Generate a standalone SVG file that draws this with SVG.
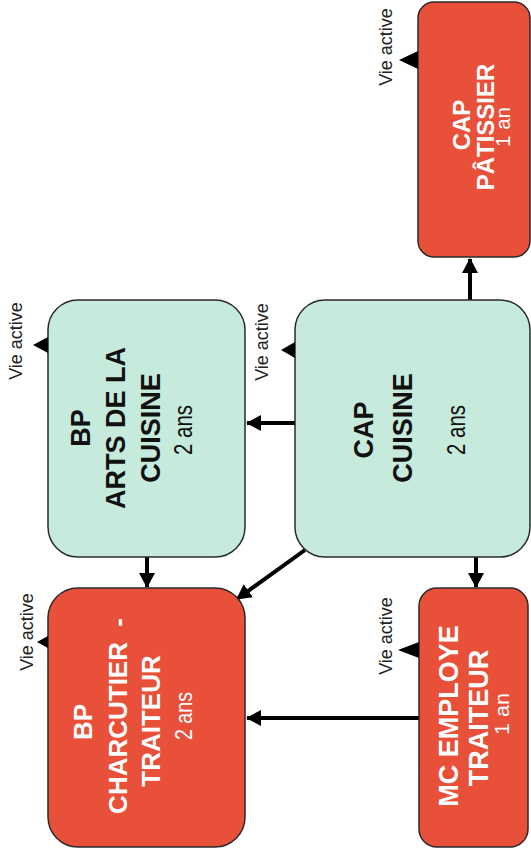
<svg xmlns="http://www.w3.org/2000/svg" width="531" height="852" viewBox="0 0 531 852">
<defs>
<style>
.green{fill:#c6eadb;stroke:#2a2a2a;stroke-width:1.5}
.red{fill:#e8503a;stroke:#2a2a2a;stroke-width:1.5}
.b{font-family:"Liberation Sans",Arial,sans-serif;font-weight:bold;text-anchor:middle}
.r{font-family:"Liberation Sans",Arial,sans-serif;text-anchor:middle}
.dark{fill:#111}
.white{fill:#fff}
.va{font-family:"Liberation Sans",Arial,sans-serif;font-size:18px;fill:#222;text-anchor:middle}
.tri{fill:#000}
.conn{stroke:#000;stroke-width:4;fill:none;marker-end:url(#arr)}
</style>
<marker id="arr" markerUnits="userSpaceOnUse" markerWidth="16" markerHeight="16" refX="14" refY="8" orient="auto">
<path d="M0,0 L15,8 L0,16 z" fill="#000"/>
</marker>
</defs>
<rect width="531" height="852" fill="#fff"/>

<g id="connectors">
<line class="conn" x1="295" y1="423" x2="247" y2="423"/>
<line class="conn" x1="147" y1="557" x2="147" y2="587"/>
<line class="conn" x1="305" y1="550" x2="237" y2="599"/>
<line class="conn" x1="476" y1="557" x2="476" y2="587"/>
<line class="conn" x1="419" y1="718" x2="247" y2="718"/>
<line class="conn" x1="470" y1="300" x2="470" y2="259"/>
</g>

<g id="bp-arts">
<rect class="green" x="48" y="300" width="197" height="257" rx="30"/>
<text class="b dark" font-size="27" transform="translate(90,428) rotate(-90)">BP</text>
<text class="b dark" font-size="27" transform="translate(125,428) rotate(-90)">ARTS DE LA</text>
<text class="b dark" font-size="27" transform="translate(160,428) rotate(-90)">CUISINE</text>
<text class="r dark" font-size="25" textLength="50" lengthAdjust="spacingAndGlyphs" transform="translate(192,430) rotate(-90)">2 ans</text>
<text class="va" transform="translate(22,341) rotate(-90)">Vie active</text>
<polygon class="tri" points="33,345 48,337 48,353"/>
</g>

<g id="cap-cuisine">
<rect class="green" x="295" y="300" width="235" height="257" rx="30"/>
<text class="b dark" font-size="27" transform="translate(373,430) rotate(-90)">CAP</text>
<text class="b dark" font-size="27" transform="translate(412,428) rotate(-90)">CUISINE</text>
<text class="r dark" font-size="25" textLength="50" lengthAdjust="spacingAndGlyphs" transform="translate(465,430) rotate(-90)">2 ans</text>
<text class="va" transform="translate(268,342) rotate(-90)">Vie active</text>
<polygon class="tri" points="281,350 295,342 295,358"/>
</g>

<g id="cap-patissier">
<rect class="red" x="418" y="2" width="112" height="255" rx="16"/>
<text class="b white" font-size="24" transform="translate(470,125) rotate(-90)">CAP</text>
<text class="b white" font-size="24" transform="translate(494,127) rotate(-90)">PÂTISSIER</text>
<text class="r white" font-size="20" textLength="40" lengthAdjust="spacingAndGlyphs" transform="translate(510,127) rotate(-90)">1 an</text>
<text class="va" transform="translate(392,47) rotate(-90)">Vie active</text>
<polygon class="tri" points="399,60 418,51 418,69"/>
</g>

<g id="bp-charcutier">
<rect class="red" x="48" y="588" width="197" height="259" rx="30"/>
<text class="b white" font-size="26" transform="translate(92,722) rotate(-90)">BP</text>
<text class="b white" font-size="26" transform="translate(127,716) rotate(-90)">CHARCUTIER <tspan dx="8">-</tspan></text>
<text class="b white" font-size="26" transform="translate(160,721) rotate(-90)">TRAITEUR</text>
<text class="r white" font-size="24" textLength="48" lengthAdjust="spacingAndGlyphs" transform="translate(192,716) rotate(-90)">2 ans</text>
<text class="va" transform="translate(33,632) rotate(-90)">Vie active</text>
<polygon class="tri" points="37,642 48,636 48,648"/>
</g>

<g id="mc-employe">
<rect class="red" x="419" y="588" width="109" height="259" rx="18"/>
<text class="b white" font-size="27" transform="translate(458,716) rotate(-90)">MC EMPLOYE</text>
<text class="b white" font-size="27" transform="translate(488,718) rotate(-90)">TRAITEUR</text>
<text class="r white" font-size="20" textLength="42" lengthAdjust="spacingAndGlyphs" transform="translate(509,714) rotate(-90)">1 an</text>
<text class="va" transform="translate(392,636) rotate(-90)">Vie active</text>
<polygon class="tri" points="398,650 419,642 419,658"/>
</g>
</svg>
